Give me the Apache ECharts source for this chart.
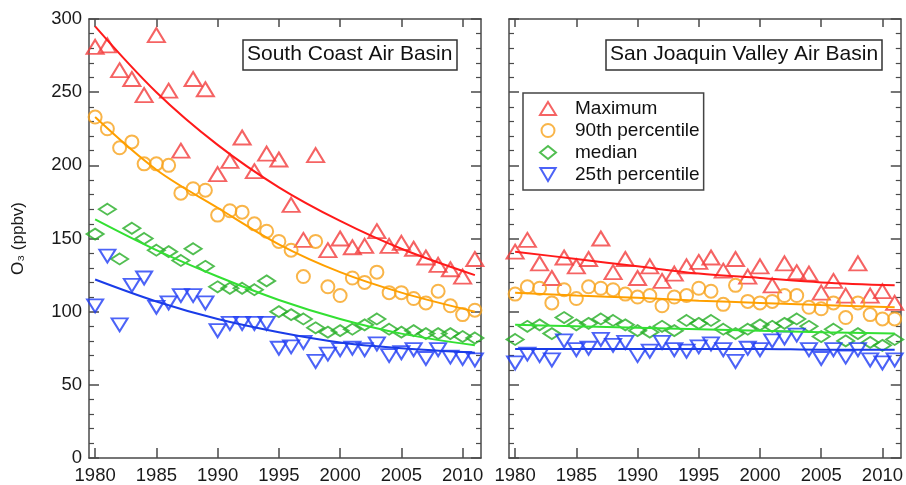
<!DOCTYPE html>
<html>
<head>
<meta charset="utf-8">
<script src="https://cdn.jsdelivr.net/npm/echarts@6/dist/echarts.min.js"></script>
<style>
  html, body { margin: 0; padding: 0; background: #fff; }
  #chart { width: 906px; height: 485px; }
</style>
</head>
<body>
<div id="chart"></div>
<script>
// years of the yearly points (both panels)
var years = [1980, 1981, 1982, 1983, 1984, 1985, 1986, 1987, 1988, 1989,
  1990, 1991, 1992, 1993, 1994, 1995, 1996, 1997, 1998, 1999,
  2000, 2001, 2002, 2003, 2004, 2005, 2006, 2007, 2008, 2009, 2010, 2011]
var yearTicks = [1980, 1985, 1990, 1995, 2000, 2005, 2010]

// South Coast Air Basin
var scMax = [281, 282, 265, 259, 248, 289, 251, 210, 259, 252, 194, 203, 219, 196, 208, 204,
  173, 149, 207, 142, 150, 144, 145, 155, 145, 147, 143, 137, 132, 129, 124, 136]
var scP90 = [233, 225, 212, 216, 201, 201, 200, 181, 184, 183, 166, 169, 168, 160, 155, 148,
  142, 124, 148, 117, 111, 123, 120, 127, 113, 113, 109, 106, 114, 104, 98, 101]
var scMedian = [153, 170, 136, 157, 150, 142, 141, 135, 143, 131, 117, 116, 116, 115, 121, 100,
  98, 95, 89, 86, 87, 88, 91, 95, 88, 86, 87, 85, 85, 85, 83, 82]
var scP25 = [104, 138, 91, 118, 123, 103, 106, 111, 111, 106, 87, 92, 92, 92, 92, 75,
  76, 79, 66, 71, 74, 75, 74, 78, 70, 72, 74, 68, 74, 69, 68, 67]

// San Joaquin Valley Air Basin
var sjMax = [141, 149, 133, 123, 137, 131, 136, 150, 127, 136, 123, 131, 121, 126, 131, 134,
  137, 128, 136, 124, 131, 118, 133, 127, 126, 113, 121, 111, 133, 111, 114, 106]
var sjP90 = [112, 117, 116, 106, 115, 109, 117, 116, 115, 112, 110, 111, 104, 110, 111, 116,
  114, 105, 118, 107, 106, 107, 111, 111, 103, 102, 106, 96, 106, 98, 95, 95]
var sjMedian = [81, 90, 91, 85, 96, 91, 92, 95, 94, 91, 87, 86, 90, 87, 94, 92,
  94, 88, 85, 88, 91, 90, 92, 95, 90, 83, 88, 80, 85, 79, 77, 81]
var sjP25 = [65, 71, 70, 67, 80, 74, 75, 81, 77, 79, 70, 73, 79, 74, 73, 76,
  78, 74, 66, 75, 74, 80, 82, 84, 74, 68, 74, 69, 74, 67, 65, 67]

// trend curves at these years
var fitYears = [1980, 1985, 1990, 1995, 2000, 2005, 2011]
var scMaxFit = [295, 250, 214, 185, 162, 143, 125]
var scP90Fit = [233, 197, 171, 146, 127, 113, 100]
var scMedianFit = [163, 142, 124, 108, 95, 85, 77]
var scP25Fit = [122, 107, 95, 86, 79, 75, 72]
var sjMaxFit = [141, 136, 131, 126, 123, 120, 118]
var sjP90Fit = [113, 111, 109.5, 107.5, 106, 104.5, 103]
var sjMedianFit = [91, 90, 89, 88, 87, 86, 85]
var sjP25Fit = [74.5, 74.5, 74.5, 74.5, 74.5, 74, 74]

var FONT = 'Liberation Sans, Arial, Helvetica, sans-serif'
var AXIS = '#4a4a4a'

function pairs (xs, ys) {
  return xs.map(function (x, i) { return [x, ys[i]] })
}

var kinds = [
  { name: 'Maximum', symbol: 'triangle', size: [17, 14], color: '#f23c3c', line: '#ff1a1a' },
  { name: '90th percentile', symbol: 'circle', size: 13, color: '#f7a21b', line: '#ffa000' },
  { name: 'median', symbol: 'diamond', size: [17, 11], color: '#25ae25', line: '#33e033' },
  { name: '25th percentile', symbol: 'path://M0,0 L20,0 L10,17 Z', size: [16, 13], color: '#1f3cf5', line: '#1a3ce8' }
]
var panels = [
  { pts: [scMax, scP90, scMedian, scP25], fit: [scMaxFit, scP90Fit, scMedianFit, scP25Fit] },
  { pts: [sjMax, sjP90, sjMedian, sjP25], fit: [sjMaxFit, sjP90Fit, sjMedianFit, sjP25Fit] }
]

var series = []
panels.forEach(function (p, g) {
  kinds.forEach(function (k, i) {
    series.push({
      name: k.name + ' fit',
      type: 'line',
      xAxisIndex: g * 2,
      yAxisIndex: g * 2,
      smooth: 0.35,
      showSymbol: false,
      silent: true,
      lineStyle: { color: k.line, width: 2 },
      data: pairs(fitYears, p.fit[i])
    })
    series.push({
      name: k.name,
      type: 'scatter',
      xAxisIndex: g * 2,
      yAxisIndex: g * 2,
      symbol: k.symbol,
      symbolSize: k.size,
      itemStyle: { color: 'rgba(0,0,0,0)', borderColor: k.color, borderWidth: 2 },
      data: pairs(years, p.pts[i])
    })
  })
})

function xAxisFor (grid, pos) {
  return {
    type: 'value',
    gridIndex: grid,
    position: pos,
    min: 1979.5,
    max: 2011.5,
    axisLine: { show: true, onZero: false, lineStyle: { color: AXIS, width: 1.5 } },
    axisTick: { show: true, inside: true, length: pos === 'bottom' ? 10 : 8, customValues: yearTicks, lineStyle: { color: AXIS, width: 1.5 } },
    axisLabel: {
      show: pos === 'bottom',
      customValues: yearTicks,
      formatter: function (v) { return String(v) },
      margin: 8,
      fontSize: 18.5,
      color: '#1a1a1a',
      fontFamily: FONT
    },
    splitLine: { show: false }
  }
}

function yAxisFor (grid, pos, labels) {
  var ax = {
    type: 'value',
    gridIndex: grid,
    position: pos,
    min: 0,
    max: 300,
    interval: 50,
    axisLine: { show: true, onZero: false, lineStyle: { color: AXIS, width: 1.5 } },
    axisTick: { show: true, inside: true, length: 10, lineStyle: { color: AXIS, width: 1.5 } },
    minorTick: { show: true, splitNumber: 5, length: 5, lineStyle: { color: AXIS, width: 1.2 } },
    axisLabel: { show: labels, margin: 7, fontSize: 18.5, color: '#1a1a1a', fontFamily: FONT },
    splitLine: { show: false }
  }
  if (labels) {
    ax.name = 'O\u2083 (ppbv)'
    ax.nameLocation = 'middle'
    ax.nameRotate = 90
    ax.nameGap = 62
    ax.nameTextStyle = { fontSize: 17, color: '#1a1a1a', fontFamily: FONT }
  }
  return ax
}

var option = {
  animation: false,
  backgroundColor: '#fff',
  textStyle: { fontFamily: FONT },
  title: [
    {
      text: 'South Coast Air Basin',
      left: 243, top: 40,
      padding: [4, 5, 5, 4],
      borderColor: '#333', borderWidth: 1.5,
      textStyle: { fontSize: 21, fontWeight: 'normal', color: '#111', fontFamily: FONT }
    },
    {
      text: 'San Joaquin Valley Air Basin',
      left: 606, top: 40,
      padding: [4, 4, 5, 4],
      borderColor: '#333', borderWidth: 1.5,
      textStyle: { fontSize: 21, fontWeight: 'normal', color: '#111', fontFamily: FONT }
    }
  ],
  legend: {
    orient: 'vertical',
    left: 523,
    top: 93,
    padding: [6, 4, 6, 16],
    itemGap: 3,
    itemWidth: 16,
    itemHeight: 13,
    borderColor: '#444',
    borderWidth: 1.5,
    textStyle: { fontSize: 19, color: '#111', fontFamily: FONT, padding: [0, 0, 0, 14] },
    data: kinds.map(function (k) {
      return {
        name: k.name,
        icon: k.symbol,
        itemStyle: { color: 'rgba(0,0,0,0)', borderColor: k.color, borderWidth: 2 }
      }
    })
  },
  grid: [
    { left: 89, top: 19, width: 392, height: 439 },
    { left: 509, top: 19, width: 394, height: 439 }
  ],
  xAxis: [
    xAxisFor(0, 'bottom'), xAxisFor(0, 'top'),
    xAxisFor(1, 'bottom'), xAxisFor(1, 'top')
  ],
  yAxis: [
    yAxisFor(0, 'left', true), yAxisFor(0, 'right', false),
    yAxisFor(1, 'left', false), yAxisFor(1, 'right', false)
  ],
  series: series
}

var chart = echarts.init(document.getElementById('chart'))
chart.setOption(option)
window.addEventListener('resize', function () { chart.resize() })
</script>
</body>
</html>
